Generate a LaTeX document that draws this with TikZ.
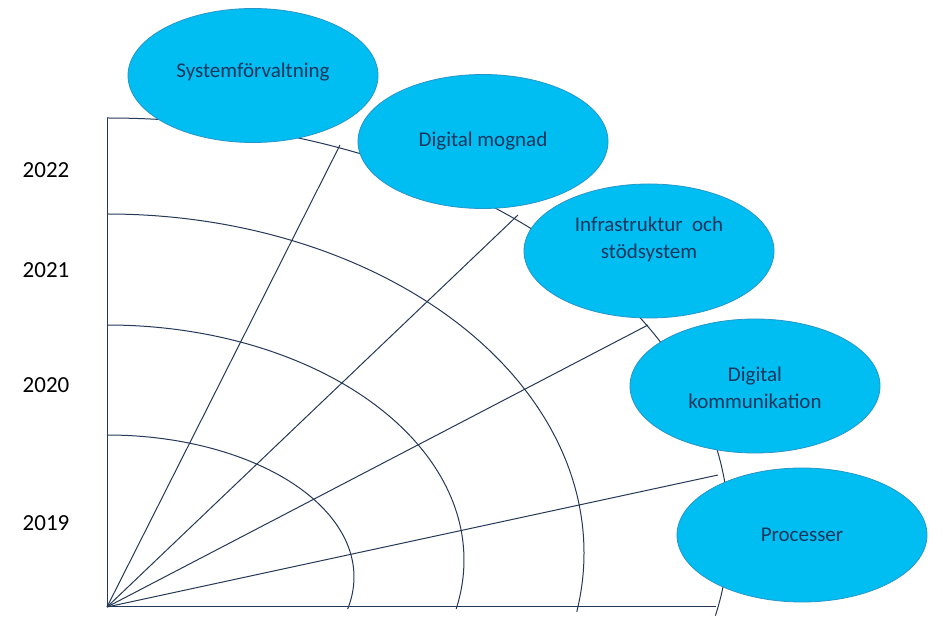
\documentclass[tikz,border=0pt]{standalone}
\usepackage{fontspec}
\setmainfont{Carlito}
\usetikzlibrary{shapes.geometric}
\definecolor{bubblefill}{RGB}{0,190,242}
\definecolor{bubbleedge}{RGB}{38,150,200}
\definecolor{bubbletext}{RGB}{23,54,93}
\definecolor{gridline}{RGB}{36,56,88}
\begin{document}
\begin{tikzpicture}[x=1pt,y=1pt,
  gridln/.style={draw=gridline, line width=1pt},
  bubble/.style={ellipse, draw=bubbleedge, line width=0.8pt, fill=bubblefill,
    minimum width=250pt, minimum height=134pt, inner sep=0pt},
  bubbletxt/.style={text=bubbletext, font=\fontsize{21}{27}\selectfont, align=center},
  year/.style={font=\fontsize{23}{27}\selectfont, text=black}]
\useasboundingbox (0,0) rectangle (951,632);
% axes
\coordinate (O) at (107,25);
\coordinate (axtop) at (107,514);
\coordinate (axright) at (716,25);
\coordinate (r1) at (340,487);
\coordinate (r2) at (518,417);
\coordinate (r3) at (648,307);
\coordinate (r4) at (718,157);
\draw[gridln] (axtop) -- (O) -- (axright);
\draw[gridln] (O) -- (r1);
\draw[gridln] (O) -- (r2);
\draw[gridln] (O) -- (r3);
\draw[gridln] (O) -- (r4);
% arcs
\draw[gridln] (107,197) arc[start angle=90, end angle=-13, x radius=247, y radius=142];
\draw[gridln] (107,307) arc[start angle=90, end angle=-12, x radius=357, y radius=235];
\draw[gridln] (107,418) arc[start angle=90, end angle=-10, x radius=477, y radius=339];
\draw[gridln] (axtop) arc[start angle=90, end angle=-12, x radius=622, y radius=412];
% years
\node[year] (y22) at (46,462) {2022};
\node[year] (y21) at (46,362) {2021};
\node[year] (y20) at (46,247) {2020};
\node[year] (y19) at (46,109) {2019};
% bubbles
\node[bubble] (e1) at (253,556.5) {};
\node[bubbletxt] (t1) at ([yshift=3pt]e1.center) {Systemförvaltning};
\node[bubble] (e2) at (483,490.5) {};
\node[bubbletxt] (t2) at (e2.center) {Digital mognad};
\node[bubble] (e3) at (649,381) {};
\node[bubbletxt] (t3) at ([yshift=12pt]e3.center) {Infrastruktur\ \ och\\stödsystem};
\node[bubble] (e4) at (755,246) {};
\node[bubbletxt] (t4) at ([yshift=-2pt]e4.center) {Digital\\kommunikation};
\node[bubble] (e5) at (802,97) {};
\node[bubbletxt] (t5) at (e5.center) {Processer};
\end{tikzpicture}
\end{document}
